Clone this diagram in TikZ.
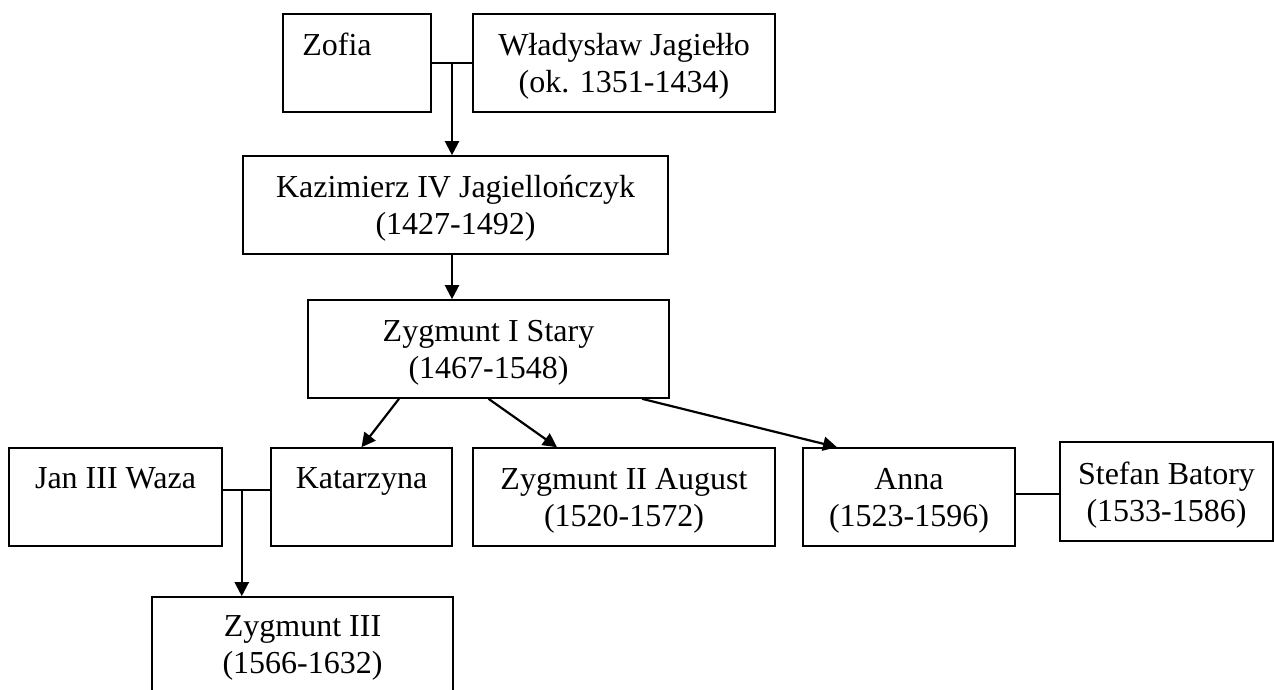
\documentclass[tikz,border=0pt]{standalone}
\usepackage{fontspec}
\setmainfont{Liberation Serif}
\usetikzlibrary{arrows.meta,calc}
\tikzset{
  person/.style={draw, line width=0.8pt, inner sep=0pt, align=center, text depth=0pt,
    font=\fontsize{16}{18.5}\selectfont},
  arr/.style={line width=1.1pt, -{Triangle[length=7pt,width=7pt]}},
  wed/.style={line width=0.7pt}
}
\begin{document}
\begin{tikzpicture}[x=0.5pt,y=-0.5pt]
\useasboundingbox (0,0) rectangle (1274,690);
\clip (0,0) rectangle (1274,690);
% boxes
\node[person, minimum width=74pt, minimum height=49pt] (zofia) at (357,63) {Zofia\hspace*{20pt}\\\mbox{}};
\node[person, minimum width=151pt, minimum height=49pt] (wlad) at (624,63) {Władysław Jagiełło\\(ok. 1351-1434)};
\node[person, minimum width=212.5pt, minimum height=49pt] (kaz) at (455.5,205) {Kazimierz IV Jagiellończyk\\(1427-1492)};
\node[person, minimum width=180.5pt, minimum height=49pt] (zyg1) at (488.5,349) {Zygmunt I Stary\\(1467-1548)};
\node[person, minimum width=106.5pt, minimum height=49pt] (jan) at (115.5,497) {Jan III Waza\\\mbox{}};
\node[person, minimum width=90.5pt, minimum height=49pt] (kat) at (361.5,497) {Katarzyna\\\mbox{}};
\node[person, minimum width=151pt, minimum height=49pt] (zyg2) at (624,497) {Zygmunt II August\\(1520-1572)};
\node[person, minimum width=106pt, minimum height=49pt] (anna) at (909,497) {Anna\\(1523-1596)};
\node[person, minimum width=106.5pt, minimum height=49.5pt] (stefan) at (1166.5,491.5) {Stefan Batory\\(1533-1586)};
\node[person, minimum width=150.5pt, minimum height=48pt] (zyg3) at (302.5,645) {Zygmunt III\\(1566-1632)};
% marriages and descent
\draw[wed] (zofia.east) -- (wlad.west);
\coordinate (m1) at ($(zofia.east)!0.5!(wlad.west)$);
\draw[arr] (m1) -- (m1 |- kaz.north);
\draw[arr] (m1 |- kaz.south) -- (m1 |- zyg1.north);
\draw[arr] ([xshift=-44.75pt]zyg1.south) -- (kat.north);
\draw[arr] (zyg1.south) -- ([xshift=-33.5pt]zyg2.north);
\draw[arr] ([xshift=76.75pt]zyg1.south) -- ([xshift=-36pt]anna.north);
\draw[wed] ([yshift=3.5pt]jan.east) -- ([yshift=3.5pt]kat.west);
\coordinate (m2) at ($([yshift=3.5pt]jan.east)!0.4!([yshift=3.5pt]kat.west)$);
\draw[arr] (m2) -- (m2 |- zyg3.north);
\draw[wed] ([yshift=1.5pt]anna.east) -- ([yshift=1.5pt]anna.east -| stefan.west);
\end{tikzpicture}
\end{document}
